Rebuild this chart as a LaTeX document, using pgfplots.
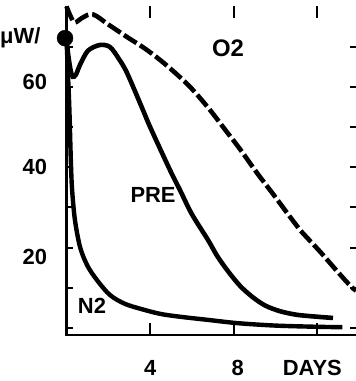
\documentclass[border=0pt]{standalone}
\usepackage{fontspec}
\setmainfont{Liberation Sans}
\usepackage{pgfplots}
\pgfplotsset{compat=1.18}
\begin{document}
\begin{tikzpicture}
\begin{axis}[name=ax, scale only axis, width=289.5bp, height=328.6bp,
 xmin=0, xmax=13.85, ymin=-1.74, ymax=80,
 axis line style={draw=none},
 clip=false,
 xtick=\empty,
 extra x ticks={4,8,12},
 extra x tick labels={4,\hspace*{8bp}8,\hspace*{-10bp}DAYS},
 extra x tick style={major tick length=12bp, xticklabel style={yshift=-22bp}},
 ytick={0,10,...,70},
 yticklabels={,,\raisebox{-9bp}[\height][\depth]{20},,40,,\raisebox{5bp}[\height][\depth]{60},},
 major tick length=6bp,
 tick style={line width=2bp, black},
 tick label style={font=\fontsize{22}{22}\selectfont\bfseries},
 yticklabel style={xshift=-16bp},
 tick align=inside,
 /pgf/number format/assume math mode=true,
]
% O2 (dashed)
\addplot[black, line width=4.6bp, dash pattern=on 15bp off 4bp, smooth, tension=0.6] coordinates {
(0,80) (0.2,77.5) (0.4,76) (0.8,77.3) (1.27,78) (2.0,75.5) (2.89,72.4) (3.7,69.7)
(4.47,66.7) (5.3,63.0) (6.05,59.2) (6.87,54.2) (7.49,50) (8.3,44.5) (9.11,38.6)
(9.9,33.2) (10.7,27.6) (11.17,24.4) (12.13,19.0) (12.8,15) (13.56,10.6) (13.85,9.3)};
% PRE
\addplot[black, line width=4.6bp, smooth, tension=0.5] coordinates {
(0,72) (0.08,68) (0.2,64) (0.3,62.5) (0.45,63) (0.65,65.5) (1.03,69) (1.6,70.4)
(2.08,69.9) (2.5,67) (2.9,63.4) (3.66,54.2) (4.0,50) (4.95,39.3) (5.43,34.3)
(6.0,28.3) (6.77,21.9) (7.2,18) (7.7,14.3) (8.3,10.5) (8.9,7.7) (9.5,5.6)
(10.2,4.2) (11,3.3) (12,2.8) (12.75,2.5)};
% N2
\addplot[black, line width=4.4bp, smooth, tension=0.5] coordinates {
(0,72) (0.08,62) (0.14,54) (0.2,43) (0.26,35) (0.4,27) (0.65,20.1) (1.0,15.5)
(1.46,11.9) (2.08,8.2) (2.8,6) (3.66,4.6) (4.5,3.5) (5.43,2.8) (6.8,2) (8.2,1.2)
(10,0.6) (12,0.3) (13.2,0.2)};
% start dot
\addplot[black, only marks, mark=*, mark size=8bp] coordinates {(-0.07,72.1)};
\node[anchor=west, inner sep=0pt, font=\fontsize{22}{22}\selectfont\bfseries] at (axis cs:-3.18,72.1) {μW/};
\node[font=\fontsize{24}{24}\selectfont\bfseries] at (axis cs:7.73,69.7) {O2};
\node[font=\fontsize{22}{22}\selectfont\bfseries] at (axis cs:4.14,33.1) {PRE};
\node[font=\fontsize{22}{22}\selectfont\bfseries] at (axis cs:1.22,5.5) {N2};
\end{axis}
\draw[line width=2bp] (ax.north west) -- (ax.south west) -- (ax.south east);
\pgfresetboundingbox
\path[use as bounding box] ([shift={(-66.5bp,-46bp)}]ax.south west) rectangle ([shift={(0bp,6.4bp)}]ax.north east);
\end{tikzpicture}
\end{document}
